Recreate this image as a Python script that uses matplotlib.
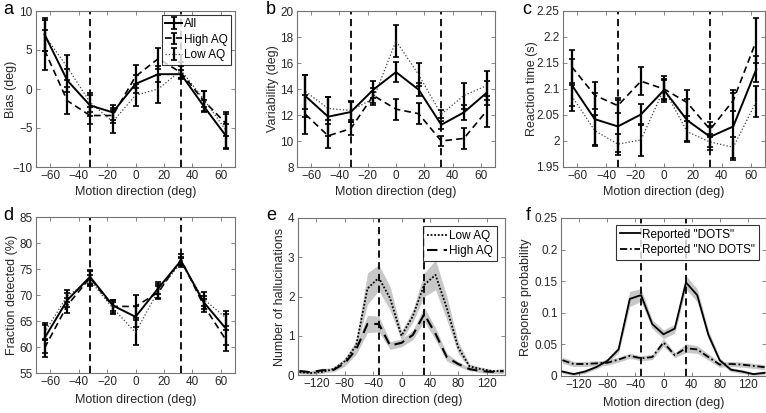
import matplotlib
matplotlib.use('Agg')
import matplotlib.pyplot as plt
import numpy as np

plt.rcParams['font.family'] = ['Liberation Sans', 'DejaVu Sans']
plt.rcParams['font.size'] = 8

# ---------------- data ----------------
dirs = [-64, -48, -32, -16, 0, 16, 32, 48, 64]

bias_all = [7.0, 1.1, -2.1, -3.0, 0.65, 1.9, 1.9, -2.2, -6.1]
bias_all_err = [2.1, 1.5, 1.3, 1.0, 1.2, 1.0, 0.5, 0.8, 1.6]
bias_high = [5.0, -1.5, -3.4, -3.4, 1.6, 3.9, 2.1, -1.5, -4.5]
bias_high_err = [2.5, 1.7, 1.1, 1.0, 1.5, 1.3, 0.8, 1.3, 1.5]
bias_low = [6.9, 2.8, -1.7, -4.2, -0.8, 0.0, 2.4, -1.3, -5.4]
bias_low_err = [2.0, 1.6, 1.2, 1.5, 1.4, 1.8, 1.0, 1.0, 2.2]

var_all = [13.45, 11.87, 12.23, 13.95, 15.3, 13.95, 11.25, 12.2, 13.7]
var_all_err = [1.6, 1.5, 0.8, 0.65, 0.75, 0.5, 0.3, 0.6, 0.9]
var_high = [12.05, 10.4, 10.95, 13.5, 12.45, 12.1, 10.0, 10.2, 12.3]
var_high_err = [1.5, 0.9, 0.5, 0.6, 0.8, 0.8, 0.4, 0.8, 1.2]
var_low = [13.8, 12.5, 12.35, 13.25, 17.7, 15.1, 12.05, 13.5, 14.25]
var_low_err = [1.3, 0.9, 0.7, 0.5, 1.25, 0.9, 0.3, 1.0, 1.1]

rt_all = [2.108, 2.042, 2.028, 2.051, 2.098, 2.040, 2.008, 2.028, 2.138]
rt_all_err = [0.05, 0.05, 0.05, 0.02, 0.02, 0.04, 0.02, 0.065, 0.025]
rt_high = [2.143, 2.088, 2.068, 2.115, 2.100, 2.074, 2.022, 2.078, 2.193]
rt_high_err = [0.032, 0.026, 0.015, 0.027, 0.025, 0.025, 0.015, 0.02, 0.043]
rt_low = [2.087, 2.020, 1.994, 2.002, 2.100, 2.018, 1.998, 1.988, 2.076]
rt_low_err = [0.02, 0.03, 0.02, 0.03, 0.02, 0.02, 0.015, 0.02, 0.03]

det_all = [61.7, 69.0, 73.5, 68.0, 65.8, 71.3, 76.6, 68.6, 63.4]
det_all_err = [2.9, 1.4, 1.3, 1.0, 2.0, 1.2, 0.8, 1.2, 3.0]
det_high = [59.8, 68.0, 73.3, 67.8, 67.8, 70.5, 76.8, 68.0, 61.2]
det_high_err = [1.7, 1.5, 1.4, 1.2, 2.2, 1.3, 1.0, 1.2, 2.0]
det_low = [62.8, 69.8, 72.8, 67.5, 62.8, 70.8, 76.2, 69.2, 65.5]
det_low_err = [1.5, 1.2, 1.0, 1.1, 2.4, 1.3, 0.9, 1.3, 1.5]

dirs_full = [-144, -128, -112, -96, -80, -64, -48, -32, -16, 0,
             16, 32, 48, 64, 80, 96, 112, 128, 144]

hal_low = [0.07, 0.05, 0.08, 0.15, 0.35, 0.75, 2.2, 2.48, 1.95, 1.0,
           1.5, 2.3, 2.55, 1.7, 0.7, 0.22, 0.15, 0.1, 0.1]
hal_low_sem = [0.04, 0.03, 0.04, 0.05, 0.08, 0.12, 0.4, 0.33, 0.3, 0.12,
               0.15, 0.3, 0.38, 0.3, 0.15, 0.06, 0.05, 0.04, 0.06]
hal_high = [0.1, 0.07, 0.12, 0.13, 0.3, 0.65, 1.3, 1.3, 0.75, 0.82,
            1.02, 1.55, 1.05, 0.45, 0.28, 0.15, 0.1, 0.08, 0.1]
hal_high_sem = [0.05, 0.04, 0.05, 0.05, 0.08, 0.12, 0.22, 0.2, 0.1, 0.1,
                0.12, 0.18, 0.15, 0.1, 0.06, 0.04, 0.04, 0.04, 0.06]

p_dots = [0.007, 0.003, 0.007, 0.014, 0.024, 0.042, 0.122, 0.128, 0.082, 0.066,
          0.075, 0.148, 0.128, 0.065, 0.025, 0.010, 0.007, 0.003, 0.005]
p_dots_sem = [0.003, 0.002, 0.003, 0.003, 0.004, 0.005, 0.012, 0.010, 0.007, 0.007,
              0.007, 0.011, 0.010, 0.007, 0.004, 0.003, 0.003, 0.002, 0.003]
p_nodots = [0.025, 0.019, 0.019, 0.020, 0.021, 0.026, 0.032, 0.028, 0.030, 0.053,
            0.033, 0.044, 0.042, 0.030, 0.018, 0.019, 0.018, 0.016, 0.014]
p_nodots_sem = [0.005, 0.004, 0.004, 0.004, 0.004, 0.004, 0.004, 0.004, 0.004, 0.006,
                0.004, 0.007, 0.006, 0.005, 0.004, 0.004, 0.004, 0.004, 0.004]

# ---------------- layout ----------------
W, H = 766, 413
fig = plt.figure(figsize=(W / 100, H / 100), dpi=100)


def px_axes(l, t, r, b):
    return fig.add_axes([l / W, 1 - b / H, (r - l) / W, (b - t) / H])


SPINE = '0.45'
TXT = '0.15'


def style(ax):
    for s in ax.spines.values():
        s.set_color(SPINE)
        s.set_linewidth(0.8)
    ax.tick_params(direction='in', length=3, width=0.6, color=SPINE,
                   top=True, right=True, labelsize=8.5, labelcolor=TXT, pad=2.5)


def labels(ax, xlab, ylab, ylab_right_px, xlab_top_px):
    ax.set_xlabel(xlab, fontsize=9, color=TXT)
    ax.set_ylabel(ylab, fontsize=9, color=TXT)
    ax.yaxis.set_label_coords(ylab_right_px / W, 0.5 * (ax.get_position().y0 + ax.get_position().y1),
                              transform=fig.transFigure)
    ax.xaxis.set_label_coords(0.5 * (ax.get_position().x0 + ax.get_position().x1),
                              1 - xlab_top_px / H, transform=fig.transFigure)


def vlines(ax):
    for v in (-32, 32):
        ax.axvline(v, color='k', ls=(0, (4, 2.5)), lw=1.3, zorder=1)


def boxed_legend(ax, handles, names, **kw):
    leg = ax.legend(handles, names, loc='upper right', fontsize=8.5, frameon=True,
                    fancybox=False, handletextpad=0.2, borderpad=0.3,
                    labelspacing=0.3, **kw)
    leg.get_frame().set_edgecolor('k')
    leg.get_frame().set_linewidth(0.8)
    return leg


def three(ax, y_all, e_all, y_high, e_high, y_low, e_low, legend=False):
    h1 = ax.errorbar(dirs, y_all, yerr=e_all, color='k', lw=1.4, ls='-',
                     elinewidth=1.6, capsize=2, capthick=1.2, zorder=4)
    h2 = ax.errorbar(dirs, y_high, yerr=e_high, color='k', lw=1.2,
                     ls=(0, (4, 2.5)), elinewidth=1.6, capsize=2, capthick=1.2, zorder=3)
    h3 = ax.errorbar(dirs, y_low, yerr=e_low, color='0.25', lw=0.9, ls=':',
                     ecolor='k', elinewidth=1.6, capsize=2, capthick=1.2, zorder=3)
    if legend:
        boxed_legend(ax, [h1, h2, h3], ['All', 'High AQ', 'Low AQ'],
                     handlelength=1.4, borderaxespad=0.3)
    ax.set_xlim(-70, 70)
    ax.set_xticks([-60, -40, -20, 0, 20, 40, 60])


# a
ax = px_axes(36, 11, 235, 167)
style(ax)
vlines(ax)
three(ax, bias_all, bias_all_err, bias_high, bias_high_err, bias_low, bias_low_err, legend=True)
ax.set_ylim(-10, 10)
ax.set_yticks([-10, -5, 0, 5, 10])
labels(ax, 'Motion direction (deg)', 'Bias (deg)', 17, 186)

# b
ax = px_axes(297, 11, 495, 167)
style(ax)
vlines(ax)
three(ax, var_all, var_all_err, var_high, var_high_err, var_low, var_low_err)
ax.set_ylim(8, 20)
ax.set_yticks(range(8, 21, 2))
labels(ax, 'Motion direction (deg)', 'Variability (deg)', 279, 186)

# c
ax = px_axes(563, 11, 765, 167)
style(ax)
vlines(ax)
three(ax, rt_all, rt_all_err, rt_high, rt_high_err, rt_low, rt_low_err)
ax.set_ylim(1.95, 2.25)
ax.set_yticks([1.95, 2.0, 2.05, 2.1, 2.15, 2.2, 2.25])
ax.set_yticklabels(['1.95', '2', '2.05', '2.1', '2.15', '2.2', '2.25'])
labels(ax, 'Motion direction (deg)', 'Reaction time (s)', 538, 186)

# d
ax = px_axes(36, 217, 235, 373)
style(ax)
vlines(ax)
three(ax, det_all, det_all_err, det_high, det_high_err, det_low, det_low_err)
ax.set_ylim(55, 85)
ax.set_yticks(range(55, 86, 5))
labels(ax, 'Motion direction (deg)', 'Fraction detected (%)', 18, 394)

# e
ax = px_axes(298, 218, 505, 375)
style(ax)
lo = np.array(hal_low)
ls_ = np.array(hal_low_sem)
hi = np.array(hal_high)
hs = np.array(hal_high_sem)
ax.fill_between(dirs_full, lo - ls_, lo + ls_, color='0.78', lw=0, zorder=1)
ax.fill_between(dirs_full, hi - hs, hi + hs, color='0.78', lw=0, zorder=1)
vlines(ax)
l1, = ax.plot(dirs_full, hal_low, color='k', ls=(0, (1, 1)), lw=1.3, zorder=3)
l2, = ax.plot(dirs_full, hal_high, color='k', ls=(0, (5, 3)), lw=1.5, zorder=3)
boxed_legend(ax, [l1, l2], ['Low AQ', 'High AQ'], handlelength=1.7, borderaxespad=0.7)
ax.set_xlim(-146, 146)
ax.set_xticks([-120, -80, -40, 0, 40, 80, 120])
ax.set_ylim(0, 4)
ax.set_yticks([0, 1, 2, 3, 4])
labels(ax, 'Motion direction (deg)', 'Number of hallucinations', 286, 394)

# f
ax = px_axes(561, 218, 766, 376)
style(ax)
d = np.array(p_dots)
ds = np.array(p_dots_sem)
n = np.array(p_nodots)
ns = np.array(p_nodots_sem)
ax.fill_between(dirs_full, d - ds, d + ds, color='0.78', lw=0, zorder=1)
ax.fill_between(dirs_full, n - ns, n + ns, color='0.78', lw=0, zorder=1)
vlines(ax)
f1, = ax.plot(dirs_full, p_dots, color='k', ls='-', lw=1.3, zorder=3)
f2, = ax.plot(dirs_full, p_nodots, color='k', ls=(0, (4, 1.5, 1, 1.5)), lw=1.3, zorder=3)
boxed_legend(ax, [f1, f2], ['Reported "DOTS"', 'Reported "NO DOTS"'],
             handlelength=1.7, borderaxespad=0.6)
ax.set_xlim(-146, 146)
ax.set_xticks([-120, -80, -40, 0, 40, 80, 120])
ax.set_ylim(0, 0.25)
ax.set_yticks([0, 0.05, 0.1, 0.15, 0.2, 0.25])
ax.set_yticklabels(['0', '0.05', '0.1', '0.15', '0.2', '0.25'])
labels(ax, 'Motion direction (deg)', 'Response probability', 532, 397)

# panel letters
for letter, x, y in [('a', 3, 10), ('b', 266, 10), ('c', 522, 10),
                     ('d', 3, 216), ('e', 266, 216), ('f', 526, 216)]:
    fig.text(x / W, 1 - y / H, letter, fontsize=13, color='k', va='center', ha='left')

fig.savefig('out.png', dpi=100)
